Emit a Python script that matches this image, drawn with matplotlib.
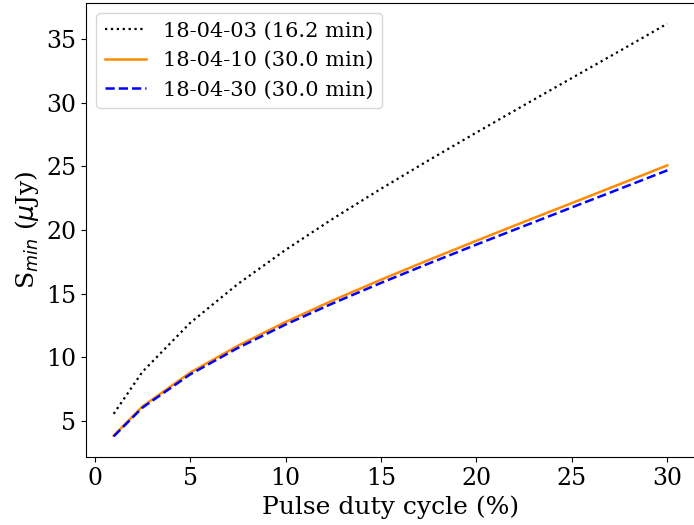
import matplotlib
matplotlib.use('Agg')
import matplotlib.pyplot as plt

# Pulse duty cycle (%) and minimum detectable flux density (uJy)
duty = [1, 2.5, 5, 7.5, 10, 12.5, 15, 17.5, 20, 22.5, 25, 27.5, 30]
s_0403 = [5.56, 8.85, 12.69, 15.75, 18.43, 20.9, 23.23, 25.47, 27.65, 29.8, 31.93, 34.05, 36.2]
s_0410 = [3.85, 6.13, 8.79, 10.9, 12.77, 14.48, 16.09, 17.64, 19.15, 20.64, 22.11, 23.59, 25.07]
s_0430 = [3.79, 6.04, 8.65, 10.73, 12.57, 14.25, 15.84, 17.36, 18.85, 20.31, 21.77, 23.22, 24.68]
labels = ['18-04-03 (16.2 min)', '18-04-10 (30.0 min)', '18-04-30 (30.0 min)']

plt.rcParams['font.family'] = 'DejaVu Serif'

fig = plt.figure(figsize=(6.94, 5.25), dpi=100)
ax = fig.add_axes([86 / 694, 1 - 457 / 525, 609 / 694, 454 / 525])

ax.plot(duty, s_0403, color='black', linestyle=':', lw=1.6, label=labels[0])
ax.plot(duty, s_0410, color='darkorange', linestyle='-', lw=1.8, label=labels[1])
ax.plot(duty, s_0430, color='blue', linestyle='--', lw=1.8, label=labels[2])

ax.set_xlabel('Pulse duty cycle (%)', fontsize=18)
ax.set_ylabel(r'S$_{min}$ ($\mu$Jy)', fontsize=18)
ax.tick_params(labelsize=17)
ax.legend(loc='upper left', fontsize=15)

fig.savefig('out.png', dpi=100)
